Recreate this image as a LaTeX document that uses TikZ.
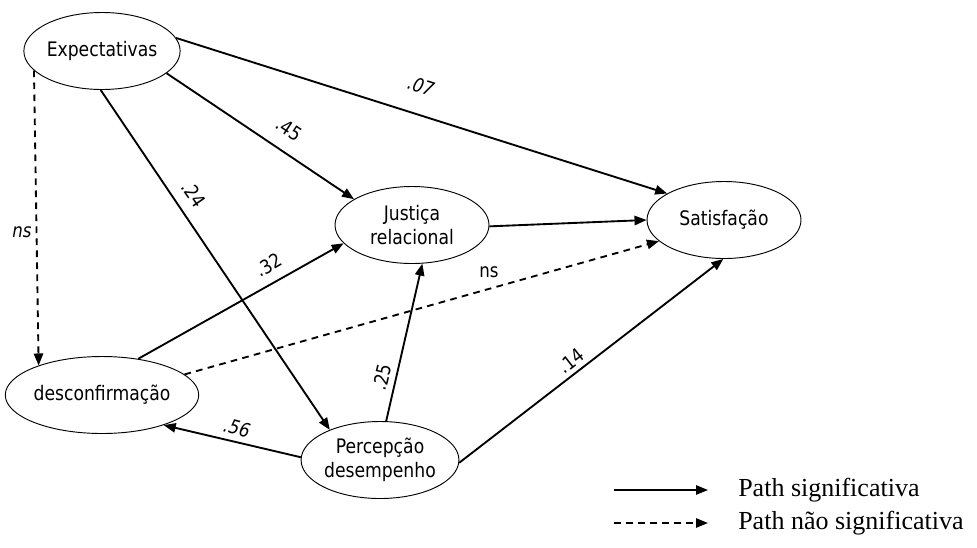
\documentclass[tikz,border=0pt]{standalone}
\usepackage{fontspec}
\setmainfont{Liberation Serif}
\newfontfamily\diagfont[FakeStretch=0.86]{DejaVu Sans}
\usetikzlibrary{shapes.geometric,arrows.meta}
\begin{document}
\begin{tikzpicture}[x=0.75pt,y=-0.75pt,
  construct/.style={ellipse,draw,line width=0.7pt,minimum width=115.5pt,minimum height=57.75pt,
    inner sep=0pt,align=center,font=\diagfont\fontsize{15}{18}\selectfont},
  path/.style={line width=1.4pt,-{Triangle[length=9pt,width=7pt]}},
  nspath/.style={path,dash pattern=on 5pt off 4pt},
  coef/.style={font=\diagfont\fontsize{14.5}{16}\selectfont,inner sep=0pt},
  coefit/.style={coef,font=\diagfont\itshape\fontsize{14.5}{16}\selectfont},
  legtext/.style={font=\fontsize{19.5}{22}\selectfont,anchor=west,inner sep=0pt}]
\useasboundingbox (0,0) rectangle (977,547);

% latent constructs
\node[construct] (exp)  at (102,51)  {Expectativas};
\node[construct] (jus)  at (412,225) {Justiça\\relacional};
\node[construct] (sat)  at (724,220) {Satisfação};
\node[construct] (desc) at (102,395) {desconfirmação};
\node[construct] (perc) at (380,460) {Percepção\\desempenho};

% structural paths
\draw[path]   (exp.10)    -- (sat.155);
\draw[path]   (exp.-19)   -- (jus.156);
\draw[path]   (exp.-92)   -- (perc.149);
\draw[nspath] (exp.-164)  -- (desc.155);
\draw[path]   (desc.45)   -- (jus.195);
\draw[nspath] (desc.14)   -- (sat.198);
\draw[path]   (jus.-1)    -- (sat.180);
\draw[path]   (perc.81)   -- (jus.-75);
\draw[path]   (perc.178)  -- (desc.-26);
\draw[path]   (perc.-2)   -- (sat.-91);

% path coefficients
\node[coefit,rotate=-17.6] (c07) at (421,86) {.07};
\node[coef,rotate=-33.7] (c45) at (289,129) {.45};
\node[coef,rotate=-55.7] (c24) at (194,194) {.24};
\node[coef,rotate=29.6]  (c32) at (269,265) {.32};
\node[coef,rotate=76.7]  (c25) at (382,377) {.25};
\node[coef,rotate=37.8]  (c14) at (571,361) {.14};
\node[coef] (cns) at (489,272) {ns};
\node[coefit,rotate=-14.8] (c56) at (237,428) {.56};
\node[coefit] (cnsl) at (22,232) {ns};

% legend
\coordinate (l1a) at (614,490);
\coordinate (l1b) at (708,490);
\coordinate (l2a) at (614,523);
\coordinate (l2b) at (708,523);
\draw[path]   (l1a) -- (l1b);
\draw[nspath] (l2a) -- (l2b);
\node[legtext] (leg1) at (738,490) {Path significativa};
\node[legtext] (leg2) at (738,523) {Path não significativa};
\end{tikzpicture}
\end{document}
